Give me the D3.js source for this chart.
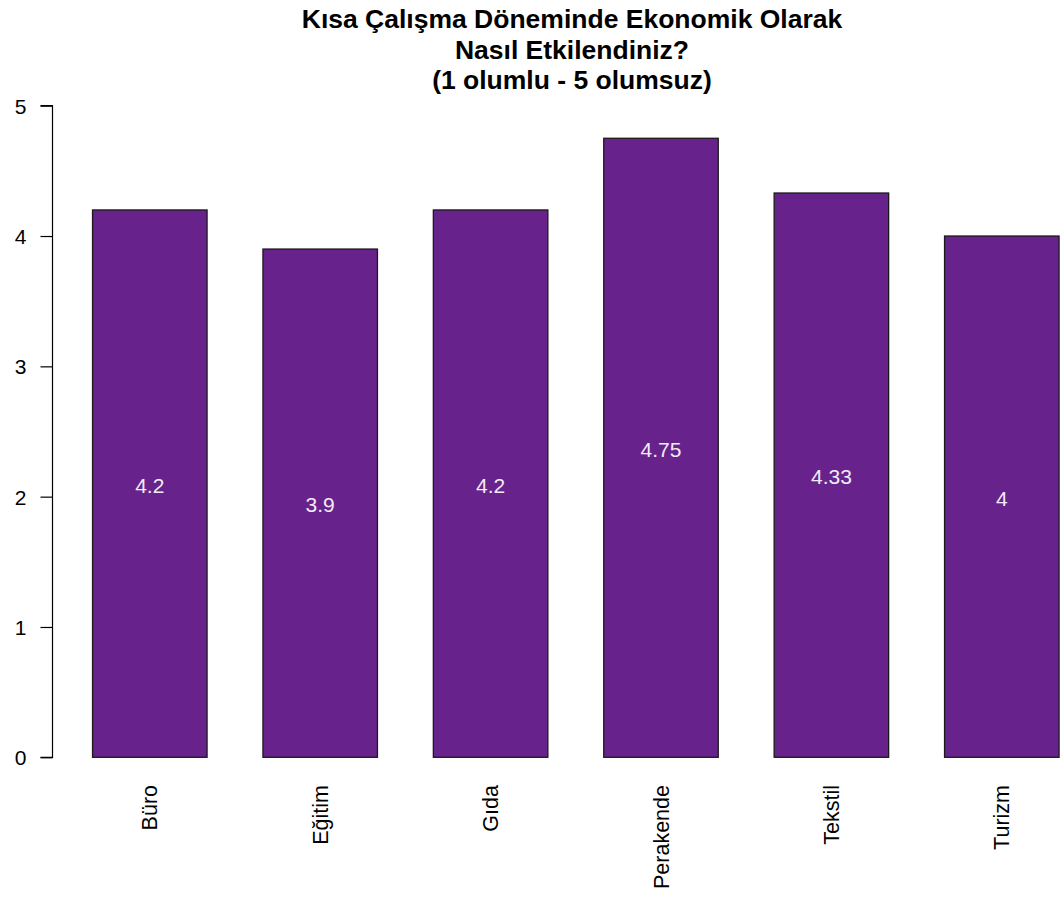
<!DOCTYPE html>
<html>
<head>
<meta charset="utf-8">
<script src="https://cdn.jsdelivr.net/npm/d3@7/dist/d3.min.js"></script>
<style>
  html, body { margin: 0; padding: 0; background: #fff; }
  svg { display: block; }
  text { font-family: "Liberation Sans", Arial, sans-serif; }
</style>
</head>
<body>
<script>
const categories = ["Büro", "Eğitim", "Gıda", "Perakende", "Tekstil", "Turizm"];
const values = [4.2, 3.9, 4.2, 4.75, 4.33, 4];
const valueLabels = ["4.2", "3.9", "4.2", "4.75", "4.33", "4"];
const yTicks = [0, 1, 2, 3, 4, 5];
const titleLines = ["Kısa Çalışma Döneminde Ekonomik Olarak", "Nasıl Etkilendiniz?", "(1 olumlu - 5 olumsuz)"];

const W = 1060, H = 897;
const svg = d3.select("body").append("svg").attr("width", W).attr("height", H);

const step = 170.4;
const x0 = 64.6;
const x = d3.scaleBand()
  .domain(categories)
  .range([x0, x0 + step * categories.length])
  .paddingInner(0.328)
  .paddingOuter(0.164);

const y = d3.scaleLinear().domain([0, 5]).range([757.3, 105.7]);

// bars
svg.append("g").selectAll("rect")
  .data(categories)
  .join("rect")
  .attr("x", d => x(d))
  .attr("y", (d, i) => y(values[i]))
  .attr("width", x.bandwidth())
  .attr("height", (d, i) => y(0) - y(values[i]))
  .attr("fill", "#68228B")
  .attr("stroke", "#1a1a1a")
  .attr("stroke-width", 1.3);

// value labels
svg.append("g").selectAll("text")
  .data(categories)
  .join("text")
  .attr("x", d => x(d) + x.bandwidth() / 2)
  .attr("y", (d, i) => y(values[i] / 2) + 9)
  .attr("text-anchor", "middle")
  .attr("font-size", 21)
  .attr("fill", "#f2ecf6")
  .text((d, i) => valueLabels[i]);

// y axis
const yAxis = d3.axisLeft(y).tickValues(yTicks).tickSize(12).tickPadding(14).tickFormat(d3.format("d"));
const gy = svg.append("g").attr("transform", "translate(52.5,0)").call(yAxis);
gy.select(".domain").attr("stroke", "#000").attr("stroke-width", 1.2).attr("d", `M-12,${y(5)}H0V${y(0)}H-12`);
gy.selectAll(".tick line").attr("stroke", "#000").attr("stroke-width", 1.2);
gy.selectAll(".tick text").attr("font-size", 21).attr("fill", "#000")
  .attr("font-family", "'Liberation Sans', Arial, sans-serif").attr("dy", "0.36em");

// category labels
svg.append("g").selectAll("text")
  .data(categories)
  .join("text")
  .attr("transform", d => `translate(${x(d) + x.bandwidth() / 2 + 7.5},785) rotate(-90)`)
  .attr("text-anchor", "end")
  .attr("font-size", 21.5)
  .attr("fill", "#000")
  .text(d => d);

// title
svg.append("g").selectAll("text")
  .data(titleLines)
  .join("text")
  .attr("x", 572)
  .attr("y", (d, i) => 28 + i * 30.5)
  .attr("text-anchor", "middle")
  .attr("font-size", 26.5)
  .attr("font-weight", "bold")
  .attr("fill", "#000")
  .text(d => d);
</script>
</body>
</html>
